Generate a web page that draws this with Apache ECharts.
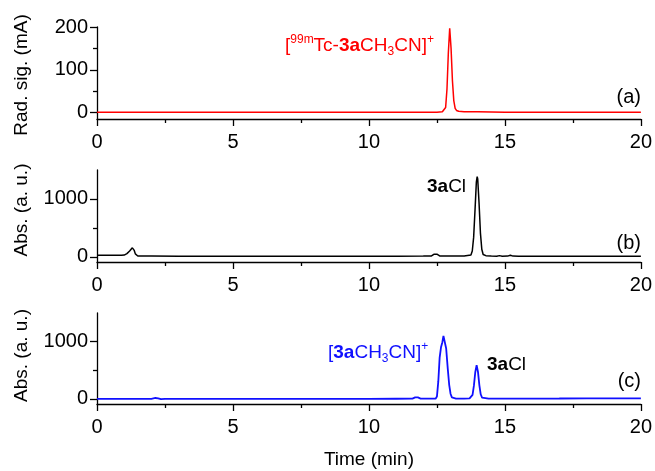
<!DOCTYPE html>
<html>
<head>
<meta charset="utf-8">
<script src="https://cdn.jsdelivr.net/npm/echarts@6/dist/echarts.min.js"></script>
<style>
  html, body { margin: 0; padding: 0; background: #fff; }
  #chart { width: 655px; height: 471px; }
</style>
</head>
<body>
<div id="chart"></div>
<script>
// panel (a) radio trace
const timeA = [0, 1, 2, 3, 4, 5, 6, 7, 8, 9, 10, 11, 12, 12.5, 12.7, 12.77, 12.82, 12.87, 12.92, 12.97, 13.02, 13.07, 13.12, 13.17, 13.22, 13.3, 13.5, 14, 15, 16, 17, 18, 19, 20];
const radA = [1, 1, 1, 1, 1, 1, 1, 1, 1, 1, 1, 1, 1, 1, 2, 4, 12, 55, 140, 197, 150, 75, 28, 10, 5, 3, 2, 2, 1, 1, 1, 1, 1, 1];

// panel (b) UV trace, 3aCl
const timeB = [0, 0.5, 0.9, 1.0, 1.1, 1.2, 1.3, 1.33, 1.37, 1.41, 1.45, 1.5, 1.7, 2, 3, 4, 5, 6, 7, 8, 9, 10, 11, 12, 12.3, 12.4, 12.45, 12.5, 12.6, 12.8, 13.5, 13.75, 13.8, 13.85, 13.9, 13.95, 13.98, 14.0, 14.05, 14.1, 14.15, 14.2, 14.3, 14.5, 14.7, 14.8, 14.9, 15.1, 15.2, 15.3, 15.5, 16, 17, 18, 19, 20];
const absB = [28, 26, 25, 30, 55, 100, 155, 165, 110, 50, 20, 14, 12, 12, 10, 10, 10, 10, 10, 10, 10, 10, 10, 12, 14, 45, 58, 45, 15, 12, 14, 30, 100, 335, 800, 1290, 1385, 1345, 920, 410, 130, 40, 20, 14, 10, 20, 10, 12, 28, 12, 10, 10, 10, 10, 10, 10];

// panel (c) UV trace, [3aCH3CN]+ and 3aCl
const timeC = [0, 1, 2, 2.15, 2.25, 2.35, 2.5, 3, 4, 5, 6, 7, 8, 9, 10, 11, 11.6, 11.7, 11.75, 11.8, 11.9, 12.0, 12.3, 12.45, 12.5, 12.55, 12.6, 12.65, 12.7, 12.74, 12.77, 12.8, 12.84, 12.9, 12.95, 13.0, 13.05, 13.1, 13.2, 13.5, 13.7, 13.76, 13.81, 13.86, 13.91, 13.96, 14.01, 14.06, 14.11, 14.16, 14.22, 14.4, 15, 16, 17, 18, 19, 20];
const absC = [0, 0, 0, 15, 10, -5, 0, 0, 0, 0, 0, 0, 0, 0, 0, 2, 3, 25, 40, 25, 5, 3, 3, 3, 40, 300, 720, 900, 990, 1100, 1130, 1090, 880, 520, 250, 90, 25, 8, 5, 4, 8, 15, 70, 230, 465, 590, 470, 240, 80, 22, 8, 4, 4, 5, 6, 8, 9, 10];

const xTicks = [0, 5, 10, 15, 20];
const yTicksA = [0, 100, 200];
const yMinorA = [50, 150];
const yTicksBC = [0, 1000];
const yMinorBC = [500];

const zip = (xs, ys) => xs.map((x, i) => [x, ys[i]]);

const FONT = 'Liberation Sans, Arial, Helvetica, sans-serif';
const AXIS_W = 1.3;

const chart = echarts.init(document.getElementById('chart'), null, { renderer: 'canvas' });

const grids = [
  { left: 97, right: 13, top: 27, height: 92 },
  { left: 97, right: 13, top: 170, height: 92 },
  { left: 97, right: 13, top: 313, height: 91 }
];

function xAxisFor(i, withName) {
  return {
    type: 'value',
    gridIndex: i,
    min: 0,
    max: 20,
    interval: 5,
    position: 'bottom',
    name: withName ? 'Time (min)' : '',
    nameLocation: 'middle',
    nameGap: 46,
    nameTextStyle: { fontSize: 19, color: '#000', fontFamily: FONT },
    axisLine: { show: true, onZero: false, lineStyle: { color: '#000', width: AXIS_W } },
    axisTick: { show: true, length: 7, lineStyle: { color: '#000', width: AXIS_W } },
    minorTick: { show: true, splitNumber: 2, length: 4, lineStyle: { color: '#000', width: AXIS_W } },
    splitLine: { show: false },
    minorSplitLine: { show: false },
    axisLabel: { fontSize: 20, color: '#000', margin: 13, fontFamily: FONT,
      customValues: xTicks, formatter: v => String(v) }
  };
}

function yAxisMain(i, min, max, ticks, name, pad) {
  return {
    type: 'value',
    gridIndex: i,
    position: 'left',
    min: min,
    max: max,
    name: name,
    nameLocation: 'middle',
    nameGap: 66,
    nameTextStyle: { fontSize: 19, color: '#000', fontFamily: FONT, padding: pad },
    axisLine: { show: true, onZero: false, lineStyle: { color: '#000', width: AXIS_W } },
    axisTick: { show: true, length: 7, customValues: ticks, lineStyle: { color: '#000', width: AXIS_W } },
    splitLine: { show: false },
    axisLabel: { fontSize: 20, color: '#000', margin: 9, fontFamily: FONT,
      customValues: ticks, formatter: v => String(v) }
  };
}

function yAxisMinor(i, min, max, ticks) {
  return {
    type: 'value',
    gridIndex: i,
    position: 'left',
    min: min,
    max: max,
    axisLine: { show: false },
    axisTick: { show: true, length: 4, customValues: ticks, lineStyle: { color: '#000', width: AXIS_W } },
    splitLine: { show: false },
    axisLabel: { show: false }
  };
}

function trace(xi, yi, xs, ys, color, w) {
  return {
    type: 'line',
    xAxisIndex: xi,
    yAxisIndex: yi,
    data: zip(xs, ys),
    symbol: 'none',
    clip: true,
    lineStyle: { color: color, width: w },
    itemStyle: { color: color },
    animation: false
  };
}

const mainSize = 19;
const richBase = {
  n: { fontSize: mainSize, lineHeight: 24, fontFamily: FONT },
  b: { fontSize: mainSize, lineHeight: 24, fontWeight: 'bold', fontFamily: FONT },
  sup: { fontSize: 12, lineHeight: 11, verticalAlign: 'top', fontFamily: FONT },
  sub: { fontSize: 12, lineHeight: 15, verticalAlign: 'bottom', fontFamily: FONT }
};

function label(x, y, text, color) {
  const rich = {};
  Object.keys(richBase).forEach(k => { rich[k] = Object.assign({}, richBase[k], { fill: color }); });
  return {
    type: 'text',
    left: x,
    top: y - 12,
    style: { text: text, rich: rich, fill: color, font: mainSize + 'px ' + FONT }
  };
}

function panelTag(xRight, yMid, text) {
  return {
    type: 'text',
    right: 655 - xRight,
    top: yMid - 11,
    style: { text: text, fill: '#000', font: '20px ' + FONT }
  };
}

const option = {
  animation: false,
  backgroundColor: '#fff',
  grid: grids,
  xAxis: [xAxisFor(0, false), xAxisFor(1, false), xAxisFor(2, true)],
  yAxis: [
    yAxisMain(0, -15, 200, yTicksA, 'Rad. sig. (mA)', [0, 4, 0, 0]),
    yAxisMain(1, -90, 1500, yTicksBC, 'Abs. (a. u.)', [0, 0, 0, 12]),
    yAxisMain(2, -90, 1500, yTicksBC, 'Abs. (a. u.)', [0, 0, 0, 6]),
    yAxisMinor(0, -15, 200, yMinorA),
    yAxisMinor(1, -90, 1500, yMinorBC),
    yAxisMinor(2, -90, 1500, yMinorBC)
  ],
  series: [
    trace(0, 0, timeA, radA, '#ff0000', 1.5),
    trace(1, 1, timeB, absB, '#000000', 1.5),
    trace(2, 2, timeC, absC, '#1010ff', 1.8)
  ],
  graphic: [
    label(285, 46, '{n|[}{sup|99m}{n|Tc-}{b|3a}{n|CH}{sub|3}{n|CN]}{sup|+}', '#ff0000'),
    label(427, 189, '{b|3a}{n|Cl}', '#000000'),
    label(328, 353, '{n|[}{b|3a}{n|CH}{sub|3}{n|CN]}{sup|+}', '#1010ff'),
    label(487, 367, '{b|3a}{n|Cl}', '#000000'),
    panelTag(641, 98, '(a)'),
    panelTag(641, 244, '(b)'),
    panelTag(641, 382, '(c)')
  ]
};

chart.setOption(option);
</script>
</body>
</html>
